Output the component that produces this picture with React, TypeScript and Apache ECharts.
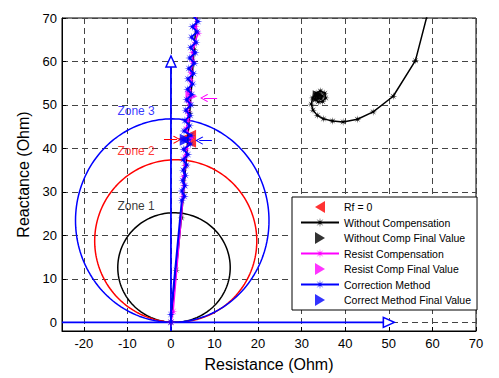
import React, { useEffect, useRef } from "react";
import * as echarts from "echarts";

// ---------- data ----------
const zoneNames = ["Zone 1", "Zone 2", "Zone 3"];
const zoneCenters = [[0.7, 12.6], [1.1, 18.7], [0.3, 23.4]];
const zoneRadiiX = [12.9, 18.6, 22.2];
const zoneRadiiY = [12.6, 18.7, 23.4];
const zoneLabelPoints = [[-8, 26.7], [-8, 39.4], [-8, 48.6]];

const rf0 = [[3.7, 42.2]];

const withoutComp = [
  [0, 0], [1.2, 12], [2.4, 24], [3.4, 36], [4.3, 48], [5.3, 62.7], [6.3, 75],
  [62, 83], [56.1, 60.2], [51, 52], [46.4, 48.4], [42.8, 46.7], [39.5, 46.1],
  [37.1, 46.3], [35, 46.8], [33.6, 47.6], [32.6, 48.8], [32.2, 50.2], [32.5, 51.6],
  [33.3, 52.7], [34.3, 53.2], [35.3, 52.7], [35.5, 51.6], [34.8, 50.8], [33.8, 50.7],
  [33.1, 51.3], [33.2, 52.3], [34, 52.6], [34.7, 52.1], [34.4, 51.4], [33.7, 51.5],
  [33.6, 52.1], [34.2, 52.2],
];
const withoutCompFinal = [[33.9, 52.0]];

const resistComp = [
  [0, 0], [0.5, 2.5], [2.8, 29], [3.0, 31.5], [2.9, 33.5], [3.3, 36], [3.2, 38],
  [3.6, 40], [4.7, 42.5], [3.5, 44.5], [3.9, 46.5], [3.8, 48.5], [4.2, 50.5],
  [4.3, 53], [4.6, 55.5], [4.6, 57.5], [5.0, 60], [5.0, 62], [5.4, 64], [6.2, 66.5],
  [5.6, 68], [5.9, 70.5],
];
const resistCompFinal = [[4.7, 52.0]];

const correction = [
  [0, 0], [0, 1.8], [2.5, 28], [3.1, 29], [2.5, 30.2], [3.2, 31.4], [2.7, 32.6],
  [3.3, 33.8], [2.8, 35], [3.6, 36.2], [2.8, 37.4], [3.9, 38.6], [2.9, 39.8],
  [4.5, 41], [2.8, 42], [4.6, 43], [3.0, 44], [4.3, 45.2], [3.2, 46.4], [4.4, 47.6],
  [3.4, 48.8], [4.6, 50], [3.6, 51.2], [4.8, 52.4], [3.8, 53.6], [5.0, 54.8],
  [3.9, 56], [5.2, 57.2], [4.1, 58.4], [5.4, 59.6], [4.3, 60.8], [5.6, 62],
  [4.5, 63.2], [5.8, 64.4], [4.7, 65.6], [6.0, 66.8], [4.9, 68], [6.2, 69.2],
  [5.2, 70.4],
];
const correctionFinal = [[3.4, 42.0]];

const refAxisVertical = [[0, -2], [0, 60]];
const refAxisHorizontal = [[-25, 0], [50, 0]];

const arrowRed = [[-1.6, 42], [1.4, 42]];
const arrowBlue = [[9.4, 41.8], [6.5, 41.8]];
const arrowMagenta = [[10.6, 51.6], [7.6, 51.6]];

// ---------- styles ----------
const BLUE = "#0000ff";
const RED = "#ff0000";
const MAGENTA = "#ff00ff";
const BLACK = "#000000";
const zoneColors = [BLACK, RED, BLUE];
const FONT = "'Liberation Sans', Arial, Helvetica, sans-serif";

const STAR =
  "path://M10,0 L2.31,0.96 L7.07,7.07 L0.96,2.31 L0,10 L-0.96,2.31 L-7.07,7.07 L-2.31,0.96 L-10,0 L-2.31,-0.96 L-7.07,-7.07 L-0.96,-2.31 L0,-10 L0.96,-2.31 L7.07,-7.07 L2.31,-0.96 Z";
const CHEVRON = "path://M0,0 L6,7.5 L5,8.3 L0,2 L-5,8.3 L-6,7.5 Z";
const TRI_RIGHT = "path://M0,0 L10,6 L0,12 Z";
const TRI_LEFT = "path://M10,0 L0,6 L10,12 Z";

function ellipsePoints(c: number[], rx: number, ry: number) {
  const pts: number[][] = [];
  for (let a = 0; a <= 360; a += 2) {
    const t = (a * Math.PI) / 180;
    pts.push([c[0] + rx * Math.cos(t), c[1] + ry * Math.sin(t)]);
  }
  return pts;
}

export default function App() {
  const ref = useRef<HTMLDivElement>(null);

  useEffect(() => {
    if (!ref.current) return;
    const chart = echarts.init(ref.current, null, { renderer: "svg" });

    const zoneSeries = zoneCenters.map((c, i) => ({
      type: "line",
      data: ellipsePoints(c, zoneRadiiX[i], zoneRadiiY[i]),
      showSymbol: false,
      symbol: "none",
      lineStyle: { color: zoneColors[i], width: 1.5 },
      silent: true,
      z: 2,
    }));

    const arrowItem = (pts: number[][], color: string) => [
      { coord: pts[0], lineStyle: { color, width: 1, type: "solid" }, itemStyle: { color } },
      { coord: pts[1] },
    ];

    const option: any = {
      animation: false,
      grid: {
        left: 62,
        top: 18,
        width: 414,
        height: 313,
        show: true,
        borderColor: "#000",
        borderWidth: 1,
        backgroundColor: "transparent",
      },
      xAxis: {
        type: "value",
        min: -25,
        max: 70,
        splitNumber: 10,
        minInterval: 10,
        maxInterval: 10,
        name: "Resistance (Ohm)",
        nameLocation: "middle",
        nameGap: 25,
        nameTextStyle: { fontSize: 16, color: "#000", fontFamily: FONT },
        axisLine: { onZero: false, lineStyle: { color: "#000", width: 1 } },
        axisTick: { inside: true, length: 4, lineStyle: { color: "#000" } },
        axisLabel: { showMinLabel: false, fontSize: 13, color: "#000", fontFamily: FONT, margin: 6 },
        splitLine: { show: true, lineStyle: { color: "#444", type: [6, 4], width: 1 } },
      },
      yAxis: {
        type: "value",
        min: -2,
        max: 70,
        splitNumber: 7,
        minInterval: 10,
        maxInterval: 10,
        name: "Reactance (Ohm)",
        nameLocation: "middle",
        nameGap: 27,
        nameTextStyle: { fontSize: 16, color: "#000", fontFamily: FONT },
        axisLine: { onZero: false, lineStyle: { color: "#000", width: 1 } },
        axisTick: { inside: true, length: 4, lineStyle: { color: "#000" } },
        axisLabel: { showMinLabel: false, fontSize: 13, color: "#000", fontFamily: FONT, margin: 5 },
        splitLine: { show: true, lineStyle: { color: "#444", type: [6, 4], width: 1 } },
      },
      legend: {
        orient: "vertical",
        left: 292,
        top: 197,
        padding: [4, 6, 4, 8],
        itemGap: 4,
        itemWidth: 38,
        itemHeight: 12,
        symbolKeepAspect: true,
        backgroundColor: "#fff",
        borderColor: "#000",
        borderWidth: 1,
        borderRadius: 0,
        textStyle: { fontSize: 10.5, color: "#000", fontFamily: FONT },
        data: [
          { name: "Rf = 0", icon: TRI_LEFT },
          "Without Compensation",
          { name: "Without Comp Final Value", icon: TRI_RIGHT },
          "Resist Compensation",
          { name: "Resist Comp Final Value", icon: TRI_RIGHT },
          "Correction Method",
          { name: "Correct Method Final Value", icon: TRI_RIGHT },
        ],
      },
      series: [
        ...zoneSeries,
        {
          type: "scatter",
          data: zoneLabelPoints.map((p, i) => ({
            value: p,
            name: zoneNames[i],
            label: { color: zoneColors[i] },
          })),
          symbolSize: 0,
          silent: true,
          label: {
            show: true,
            position: "inside",
            formatter: (p: any) => p.name,
            fontSize: 12,
            fontFamily: FONT,
          },
          markLine: {
            silent: true,
            symbol: ["none", CHEVRON],
            symbolSize: [8, 8],
            label: { show: false },
            lineStyle: { type: "solid", width: 1 },
            data: [
              arrowItem(arrowRed, RED),
              arrowItem(arrowBlue, BLUE),
              arrowItem(arrowMagenta, MAGENTA),
            ],
          },
          z: 3,
        },
        {
          type: "line",
          data: [
            { value: refAxisVertical[0], symbol: "none" },
            {
              value: refAxisVertical[1],
              symbol: "triangle",
              symbolSize: [10, 11],
              itemStyle: { color: "#fff", borderColor: BLUE, borderWidth: 1.5 },
            },
          ],
          lineStyle: { color: BLUE, width: 1.8 },
          silent: true,
          z: 3,
        },
        {
          type: "line",
          data: [
            { value: refAxisHorizontal[0], symbol: "none" },
            {
              value: refAxisHorizontal[1],
              symbol: "triangle",
              symbolRotate: -90,
              symbolSize: [10, 11],
              itemStyle: { color: "#fff", borderColor: BLUE, borderWidth: 1.5 },
            },
          ],
          lineStyle: { color: BLUE, width: 1.8 },
          silent: true,
          z: 3,
        },
        {
          name: "Rf = 0",
          type: "scatter",
          data: rf0,
          symbol: "triangle",
          symbolRotate: 90,
          symbolSize: 18,
          itemStyle: { color: RED },
          z: 4,
        },
        {
          name: "Without Compensation",
          type: "line",
          data: withoutComp,
          symbol: STAR,
          symbolSize: 8,
          showSymbol: true,
          itemStyle: { color: BLACK },
          lineStyle: { color: BLACK, width: 1.5 },
          z: 5,
        },
        {
          name: "Without Comp Final Value",
          type: "scatter",
          data: withoutCompFinal,
          symbol: "triangle",
          symbolRotate: -90,
          symbolSize: 12,
          itemStyle: { color: BLACK },
          z: 6,
        },
        {
          name: "Resist Compensation",
          type: "line",
          data: resistComp,
          symbol: STAR,
          symbolSize: 9,
          showSymbol: true,
          itemStyle: { color: MAGENTA },
          lineStyle: { color: MAGENTA, width: 1.5 },
          z: 7,
        },
        {
          name: "Resist Comp Final Value",
          type: "scatter",
          data: resistCompFinal,
          symbol: "triangle",
          symbolRotate: -90,
          symbolSize: 12,
          itemStyle: { color: MAGENTA },
          z: 8,
        },
        {
          name: "Correction Method",
          type: "line",
          data: correction,
          symbol: STAR,
          symbolSize: 9,
          showSymbol: true,
          itemStyle: { color: BLUE },
          lineStyle: { color: BLUE, width: 2 },
          z: 9,
        },
        {
          name: "Correct Method Final Value",
          type: "scatter",
          data: correctionFinal,
          symbol: "triangle",
          symbolRotate: -90,
          symbolSize: 12,
          itemStyle: { color: BLUE },
          z: 10,
        },
      ],
    };

    chart.setOption(option);
    return () => chart.dispose();
  }, []);

  return (
    <div
      ref={ref}
      style={{ position: "fixed", left: 0, top: 0, width: 499, height: 378, background: "#fff" }}
    />
  );
}
